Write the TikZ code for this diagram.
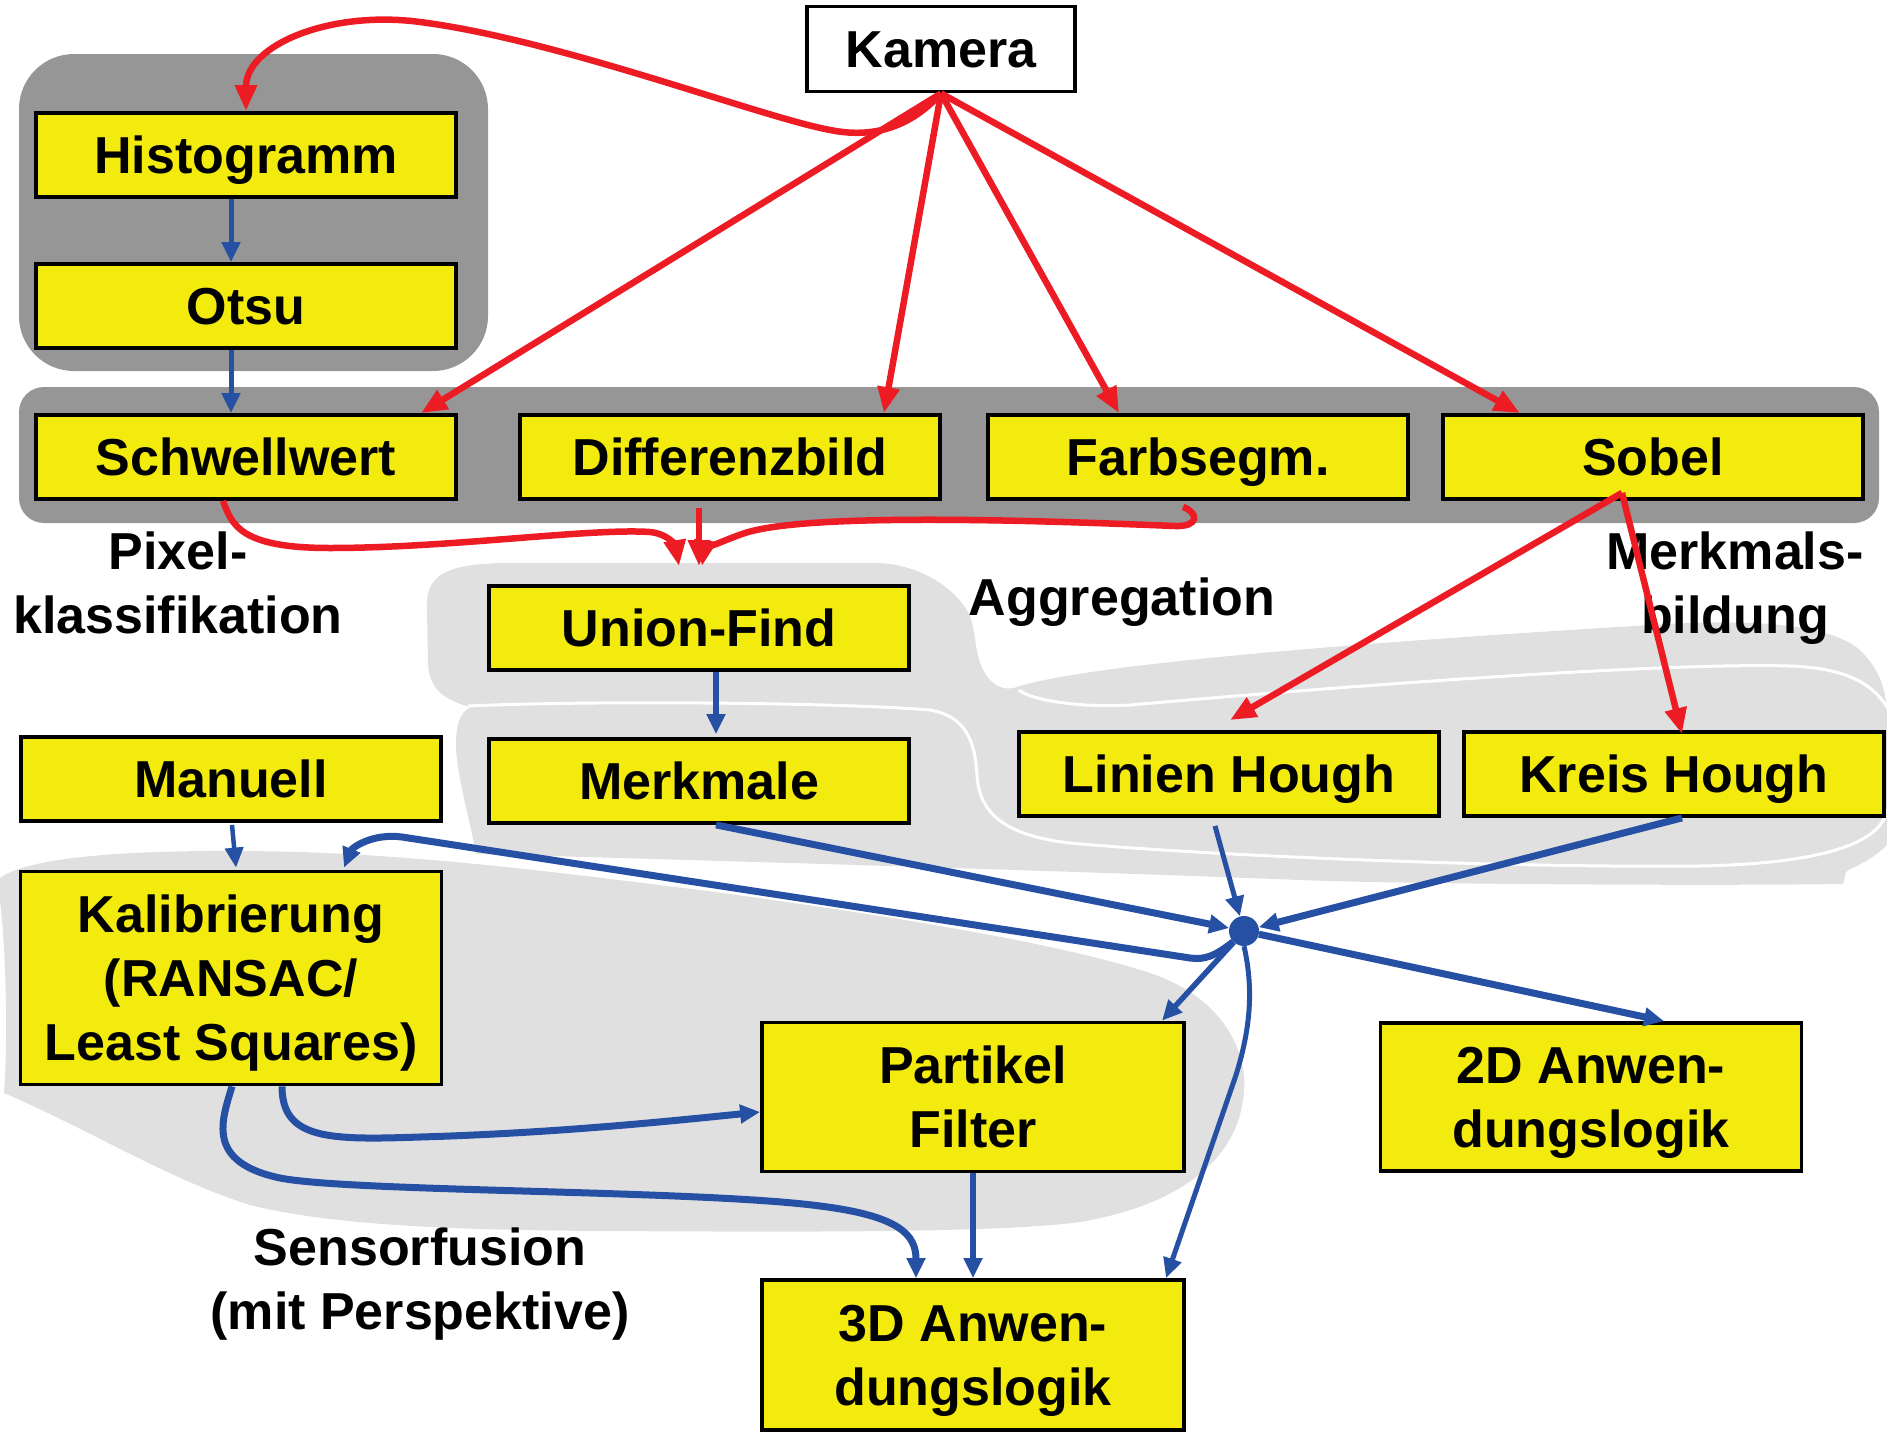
\documentclass[tikz,border=0pt]{standalone}
\usepackage{fontspec}
\setmainfont{Liberation Sans}
\usetikzlibrary{arrows.meta,calc}
\definecolor{boxyellow}{RGB}{243,234,14}
\definecolor{arrred}{RGB}{237,28,36}
\definecolor{arrblue}{RGB}{38,80,163}
\definecolor{darkpanel}{RGB}{150,150,150}
\definecolor{lightblob}{RGB}{224,224,224}
\newcommand{\dlfont}{\fontsize{52pt}{64pt}\selectfont\bfseries}
\newcommand{\nodp}[1]{\raisebox{0pt}[\height][0pt]{#1}}
\begin{document}
\begin{tikzpicture}[x=1pt,y=-1pt,
  box/.style={draw=black, line width=3.8pt, fill=boxyellow, inner sep=0pt, align=center,
              font=\dlfont, minimum width=420pt, minimum height=84pt},
  oneline/.style={text height=37pt, text depth=0pt},
  lbl/.style={inner sep=0pt, align=center, font=\dlfont},
  redarr/.style={draw=arrred, line width=6.5pt, -{Triangle[length=26pt,width=21pt]}},
  bluearr/.style={draw=arrblue, line width=5pt, -{Triangle[length=20pt,width=18pt]}},
  bluethick/.style={bluearr, line width=7pt},
  sep/.style={draw=white, line width=3pt}]
\useasboundingbox (0,0) rectangle (1887,1440);

% ---- light grey blobs ----
% Sensorfusion
\fill[lightblob] (0,878) .. controls (30,855) and (150,848) .. (300,852)
  .. controls (450,857) and (600,878) .. (700,890)
  .. controls (850,910) and (1050,940) .. (1150,973)
  .. controls (1230,1000) and (1250,1060) .. (1243,1100)
  .. controls (1235,1160) and (1180,1205) .. (1080,1222)
  .. controls (1000,1233) and (800,1232) .. (600,1231)
  .. controls (450,1230) and (330,1225) .. (250,1205)
  .. controls (170,1180) and (90,1130) .. (4,1093)
  .. controls (8,1040) and (6,950) .. (0,900) -- cycle;
% Aggregation + Merkmalsbildung
\fill[lightblob] (427,610) .. controls (425,575) and (445,565) .. (500,563)
  -- (880,563) .. controls (925,566) and (955,590) .. (968,612)
  .. controls (978,630) and (972,660) .. (990,680)
  .. controls (1000,690) and (1010,690) .. (1020,686)
  .. controls (1100,662) and (1400,640) .. (1650,625)
  .. controls (1760,618) and (1830,625) .. (1860,650)
  .. controls (1880,670) and (1887,690) .. (1887,720)
  -- (1887,845) .. controls (1870,862) and (1850,868) .. (1846,872)
  -- (1843,884) .. controls (1700,886) and (1400,884) .. (1300,880)
  .. controls (1100,872) and (700,860) .. (476,854)
  .. controls (470,820) and (455,770) .. (456,740)
  .. controls (457,720) and (462,712) .. (470,707)
  .. controls (445,700) and (430,690) .. (428,665) -- cycle;
\draw[sep] (468,706) .. controls (600,700) and (850,703) .. (930,710)
  .. controls (965,716) and (975,740) .. (977,775)
  .. controls (979,810) and (1000,835) .. (1070,843)
  .. controls (1200,855) and (1500,868) .. (1700,866)
  .. controls (1800,864) and (1860,850) .. (1880,825)
  .. controls (1900,800) and (1900,720) .. (1887,707)
  .. controls (1870,680) and (1840,668) .. (1790,666)
  .. controls (1650,662) and (1300,690) .. (1130,705)
  .. controls (1080,708) and (1030,700) .. (1019,690);

% ---- dark grey panels ----
\fill[darkpanel, rounded corners=55pt] (19,54) rectangle (488,371);
\fill[darkpanel, rounded corners=25pt] (19,387) rectangle (1879,523);

% ---- boxes ----
\node[box, fill=white, minimum width=268pt, minimum height=85pt, oneline] (cam) at (941,49) {Kamera};
\node[box, oneline] (hist) at (246,155) {Histogramm};
\node[box, oneline] (otsu) at (246,306) {Otsu};
\node[box, oneline] (sw) at (246,457) {Schwellwert};
\node[box, oneline] (diff) at (730,457) {Differenzbild};
\node[box, oneline] (farb) at (1198,457) {Farbsegm.};
\node[box, oneline] (sob) at (1653,457) {Sobel};
\node[box, oneline] (uf) at (699,628) {Union-Find};
\node[box, oneline] (mm) at (699,781) {Merkmale};
\node[box, oneline] (man) at (231,779) {Manuell};
\node[box, oneline] (lh) at (1229,774) {Linien Hough};
\node[box, oneline] (kh) at (1674,774) {Kreis Hough};
\node[box, minimum width=421pt, minimum height=213pt] (kal) at (231,978) {Kalibrierung\\(RANSAC/\\\nodp{Least Squares)}};
\node[box, minimum width=422pt, minimum height=149pt] (pf) at (973,1097) {Partikel\\Filter};
\node[box, minimum width=421pt, minimum height=148pt] (d2) at (1591,1097) {2D Anwen-\\\nodp{dungslogik}};
\node[box, minimum width=422pt, minimum height=150pt] (td) at (973,1355) {3D Anwen-\\\nodp{dungslogik}};
\node[circle, fill=arrblue, minimum size=30pt, inner sep=0pt] (hub) at (1244,931) {};

% ---- labels ----
\node[lbl, anchor=north] (pk) at (178,532) {Pixel-\\klassifikation};
\node[lbl, anchor=base] (agg) at (1122,615) {Aggregation};
\node[lbl, anchor=north] (mb) at (1735,532) {Merkmals-\\bildung};
\node[lbl, anchor=north] (sf) at (420,1228) {Sensorfusion\\(mit Perspektive)};

% ---- red connectors ----
\draw[redarr] (cam.south) .. controls (915,122) and (880,140) .. (830,130)
  .. controls (760,117) and (560,40) .. (420,22)
  .. controls (330,10) and (246,45) .. (hist.north);
\draw[redarr] (cam.south) -- ([xshift=175pt]sw.north);
\draw[redarr] (cam.south) -- ([xshift=154pt]diff.north);
\draw[redarr] (cam.south) -- ([xshift=-79pt]farb.north);
\draw[redarr] (cam.south) -- ([xshift=-133pt]sob.north);
\draw[redarr] ([xshift=-23pt]sw.south) .. controls (232,525) and (240,548) .. (330,548)
  .. controls (450,548) and (590,528) .. (650,532)
  .. controls (670,534) and (676,548) .. ([xshift=-20pt,yshift=18pt]uf.north);
\draw[redarr] ([xshift=-31pt,yshift=-7pt]diff.south) -- ([yshift=18pt]uf.north);
\draw[redarr] ([xshift=-15pt,yshift=-6pt]farb.south) .. controls (1199,513) and (1199,527) .. (1175,526)
  .. controls (1050,521) and (810,512) .. (745,533)
  .. controls (718,542) and (704,552) .. ([xshift=3pt,yshift=18pt]uf.north);
\draw[redarr] ([xshift=-31pt,yshift=8pt]sob.south) -- ([xshift=1pt,yshift=10pt]lh.north);
\draw[redarr] ([xshift=-31pt,yshift=8pt]sob.south) -- ([xshift=8pt,yshift=-4pt]kh.north);

% ---- blue connectors ----
\draw[bluearr] ([xshift=-15pt]hist.south) -- ([xshift=-15pt]otsu.north);
\draw[bluearr] ([xshift=-15pt]otsu.south) -- ([xshift=-15pt]sw.north);
\draw[bluearr, line width=6.5pt] ([xshift=17pt]uf.south) -- ([xshift=17pt,yshift=3pt]mm.north);
\draw[bluearr, line width=4.5pt] ([xshift=1pt,yshift=-2pt]man.south) -- ([xshift=5pt,yshift=2pt]kal.north);
\draw[bluethick] ([xshift=17pt]mm.south) -- (hub);
\draw[bluearr, line width=5pt] ([xshift=-14pt,yshift=-8pt]lh.south) -- (hub);
\draw[bluethick] ([xshift=8pt]kh.south) -- (hub);
\draw[bluethick] (hub.225) .. controls (1215,956) and (1205,960) .. (1190,958) -- (402,837)
  .. controls (372,833) and (352,848) .. ([xshift=113pt,yshift=2pt]kal.north);
\draw[bluearr, line width=5.5pt] (hub) -- ([xshift=189pt]pf.north);
\draw[bluethick] (hub) -- ([xshift=73pt]d2.north);
\draw[bluearr, line width=5pt] (hub.270) .. controls (1254,990) and (1250,1030) .. (1236,1075)
  -- ([xshift=193pt]td.north);
\draw[bluethick] ([xshift=51pt]kal.south) .. controls (282,1140) and (330,1140) .. (420,1137)
  .. controls (560,1133) and (680,1120) .. ([yshift=-15pt]pf.west);
\draw[bluethick] ([xshift=1pt]kal.south) .. controls (222,1120) and (205,1162) .. (280,1178)
  .. controls (350,1192) and (700,1190) .. (820,1206)
  .. controls (900,1216) and (916,1235) .. ([xshift=-57pt]td.north);
\draw[bluearr, line width=5.5pt] (pf.south) -- (td.north);
\end{tikzpicture}
\end{document}
